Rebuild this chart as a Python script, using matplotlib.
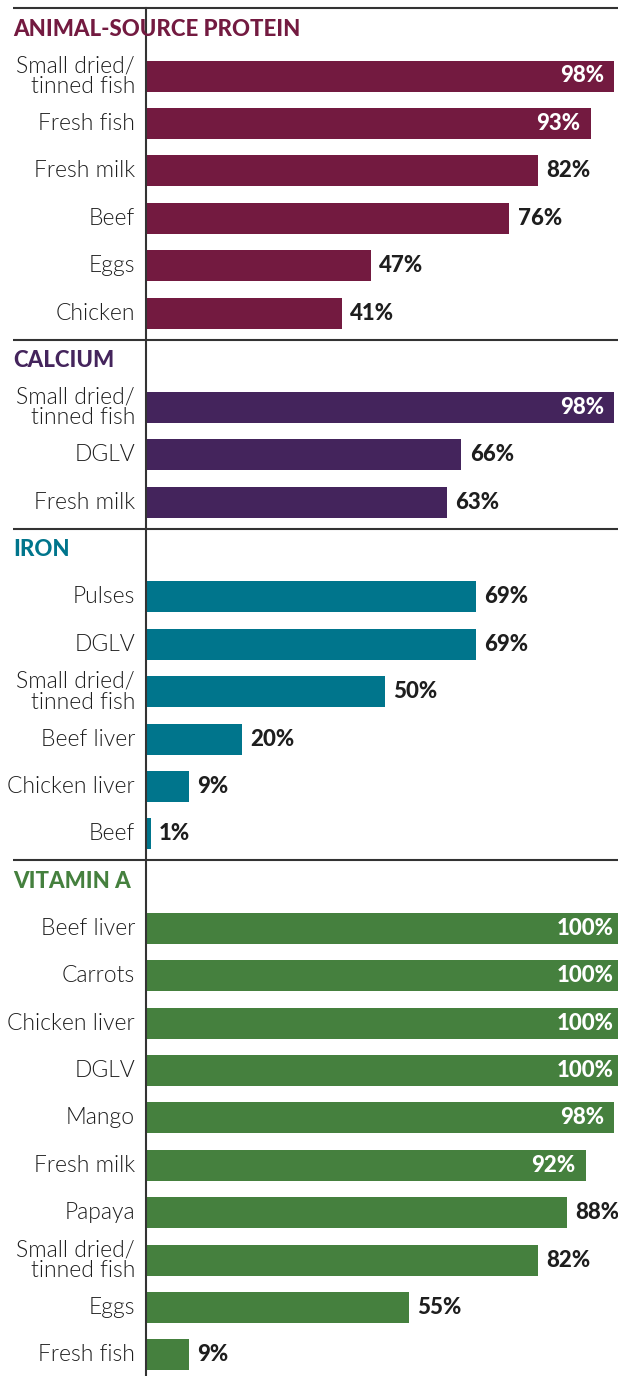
import matplotlib.pyplot as plt

# share of foods rich in each nutrient (%)
animal_labels = ["Small dried/\ntinned fish", "Fresh fish", "Fresh milk", "Beef", "Eggs", "Chicken"]
animal_values = [98, 93, 82, 76, 47, 41]

calcium_labels = ["Small dried/\ntinned fish", "DGLV", "Fresh milk"]
calcium_values = [98, 66, 63]

iron_labels = ["Pulses", "DGLV", "Small dried/\ntinned fish", "Beef liver", "Chicken liver", "Beef"]
iron_values = [69, 69, 50, 20, 9, 1]

vita_labels = ["Beef liver", "Carrots", "Chicken liver", "DGLV", "Mango", "Fresh milk",
               "Papaya", "Small dried/\ntinned fish", "Eggs", "Fresh fish"]
vita_values = [100, 100, 100, 100, 98, 92, 88, 82, 55, 9]

sections = [
    ("ANIMAL-SOURCE PROTEIN", "#731a40", animal_labels, animal_values),
    ("CALCIUM", "#44245c", calcium_labels, calcium_values),
    ("IRON", "#00758c", iron_labels, iron_values),
    ("VITAMIN A", "#45803e", vita_labels, vita_values),
]

##### layout (pixel units along y)
W, H = 618, 1376
x0 = 146          # pixel position of the 0% baseline
scale = 4.78      # pixels per percent
pitch = 47.4
bar_h = 31
dark = "#1e1e1e"

fig = plt.figure(figsize=(W / 100, H / 100), dpi=100)
ax = fig.add_axes([0, 0, 1, 1])
ax.set_xlim(-x0 / scale, (W - x0) / scale)
ax.set_ylim(H, 0)
ax.axis("off")

def px(x):
    return (x - x0) / scale

font = "Lato"

y = 8
for title, color, labels, values in sections:
    # separator line above each block
    ax.plot([px(13), px(W)], [y, y], color="#333333", lw=1.5, solid_capstyle="butt")
    ax.text(px(13), y + 21, title, color=color, fontsize=16, fontweight="black",
            family=font, ha="left", va="center")
    ys = [y + 68 + i * pitch for i in range(len(values))]
    ax.barh(ys, values, height=bar_h, color=color, left=0)
    for yy, lab, v in zip(ys, labels, values):
        ax.annotate(lab, (0, yy), xytext=(-8, 0), textcoords="offset points",
                    ha="right", va="center", fontsize=16.5, fontweight=300,
                    color=dark, family=font, linespacing=1.0)
        if v >= 90:
            ax.annotate(f"{v}%", (v, yy), xytext=(-7.5, 0), textcoords="offset points",
                        ha="right", va="center", fontsize=16, fontweight="black",
                        color="white", family=font, annotation_clip=False)
        else:
            ax.annotate(f"{v}%", (v, yy), xytext=(6, 0), textcoords="offset points",
                        ha="left", va="center", fontsize=16, fontweight="black",
                        color=dark, family=font, annotation_clip=False)
    y = ys[-1] + 26.5

# vertical baseline
ax.plot([0, 0], [8, H], color="#333333", lw=1.5)

fig.savefig("out.png", dpi=100)
